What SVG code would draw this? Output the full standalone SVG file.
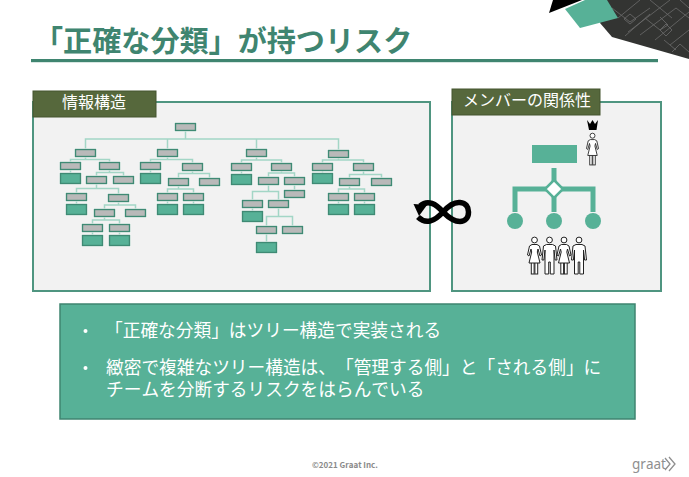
<svg xmlns="http://www.w3.org/2000/svg" width="689" height="477" viewBox="0 0 689 477">
<style>
text{font-family:"Noto Sans CJK JP","Noto Sans",sans-serif;text-spacing-trim:space-all;font-feature-settings:"palt" 0,"kern" 0;font-kerning:none}
.panel{fill:#f2f2f2;stroke:#4f9580;stroke-width:2}
.tab{fill:#56683c;stroke:#44552f;stroke-width:1}
.tabt{fill:#fff;font-size:16px;font-weight:400}
.body{fill:#fff;font-size:17.7px;font-weight:400}
.bus{fill:none;stroke:#a3d6c6;stroke-width:1.5}
.ic{fill:none;stroke:#57b197;stroke-width:5}
.p{fill:#fff;stroke:#222;stroke-width:1}
.tile{fill:none;stroke:#6c6c6c;stroke-width:.8}
</style>
<defs>
<g id="gn"><rect x="-.8" y="-.8" width="22.6" height="9.6" fill="#fff" opacity=".8"/><rect x=".5" y=".5" width="20" height="7" fill="#b9b9b9" stroke="#3f8a74" stroke-width="1.4"/></g>
<g id="tn"><rect x="-.8" y="-.8" width="22.6" height="12.6" fill="#fff" opacity=".8"/><rect x=".5" y=".5" width="20" height="10" fill="#57b197" stroke="#3f8a74" stroke-width="1.4"/></g>
<g id="female"><circle cx="0" cy="0" r="2.9" class="p"/><rect x="-3.2" y="22" width="2.8" height="12" class="p"/><rect x=".4" y="22" width="2.8" height="12" class="p"/><path class="p" d="M-2.5,4.5H2.5L5,6L7,15L5.5,16L3.5,9L2.8,12L5.5,23H-5.5L-2.8,12L-3.5,9L-5.5,16L-7,15L-5,6Z"/></g>
<g id="male"><circle cx="0" cy="0" r="2.9" class="p"/><path class="p" d="M-3,4.5H3L6,6L7.5,20L5.6,20L4.5,10V34H.8V22H-.8V34H-4.5V10L-5.6,20L-7.5,20L-6,6Z"/></g>
</defs>

<g id="decoration">
<polygon points="600,23 612,37 689,59 689,0 607,0" fill="#333432"/>
<g class="tile">
<path d="M618,18L640,0M628,32L670,0M640,35L676,8L689,18M655,40L689,12M612,8L630,22L650,8M645,18L660,30L668,25L660,17M670,45L689,30M650,0L672,18M676,50L664,40M680,0L689,8M630,14L636,19L630,24L624,19ZM666,24L672,30L666,36L660,30ZM625,36L650,14M672,52L680,44L689,52"/>
</g>
<polygon points="549,13 553,0 582,0" fill="#000"/>
<polygon points="565,9 585,0 607,0 618,18 580,28" fill="#57b197"/>
</g>

<g id="title">
<text x="34" y="52" font-size="29.1" font-weight="700" fill="#3f8570">「正確な分類」が持つリスク</text>
<rect x="31" y="59" width="627" height="3.2" fill="#3f8570"/>
</g>

<g id="panel-left"><rect class="panel" x="33" y="102" width="397" height="189"/></g>
<g id="panel-right"><rect class="panel" x="452" y="102" width="209" height="189"/></g>

<g id="connectors">
<path class="bus" d="M185.5,130V139M85.5,149V139H338.5V150M167.5,139V149M256.5,139V149"/>
<path class="bus" d="M85.5,156V159.5M70.5,173V159.5H109.5V162M109.5,169V172.5M96.5,176V172.5H123.5V176M96.5,183V188.5M76.5,204V188.5H118.5V194M118.5,201V205M104.5,209V205H135.5V209M104.5,216V220M92.5,235V220H119.5V235"/>
<path class="bus" d="M167.5,156V159.5M150.5,173V159.5H192.5V163M192.5,170V173.5M178.5,178V173.5H209.5V178M178.5,185V189M167.5,204V189H193.5V204"/>
<path class="bus" d="M256.5,157V160M241.5,174V160H281.5V163M281.5,170V173M268.5,177V173H294.5V190M268.5,184V191.5M252.5,211V191.5H278.5V200M278.5,207V216.5M266.5,242V216.5H292.5V226"/>
<path class="bus" d="M338.5,157V160M322.5,173V160H363.5V163M363.5,171V174.5M349.5,178V174.5H381.5V178M349.5,185V189M338.5,204V189H364.5V204"/>
</g>

<g id="tree-nodes">
<g id="root"><use href="#gn" x="175" y="123"/></g>
<g id="a1"><use href="#gn" x="75" y="149"/></g>
<g id="a2"><use href="#gn" x="60" y="162"/></g>
<g id="a3"><use href="#tn" x="60" y="173"/></g>
<g id="a4"><use href="#gn" x="99" y="162"/></g>
<g id="a5"><use href="#gn" x="86" y="176"/></g>
<g id="a6"><use href="#gn" x="113" y="176"/></g>
<g id="a7"><use href="#gn" x="66" y="193"/></g>
<g id="a8"><use href="#tn" x="66" y="204"/></g>
<g id="a9"><use href="#gn" x="108" y="194"/></g>
<g id="a10"><use href="#gn" x="94" y="209"/></g>
<g id="a11"><use href="#gn" x="125" y="209"/></g>
<g id="a12"><use href="#gn" x="82" y="224"/></g>
<g id="a13"><use href="#tn" x="82" y="235"/></g>
<g id="a14"><use href="#gn" x="109" y="224"/></g>
<g id="a15"><use href="#tn" x="109" y="235"/></g>
<g id="b1"><use href="#gn" x="157" y="149"/></g>
<g id="b2"><use href="#gn" x="140" y="162"/></g>
<g id="b3"><use href="#tn" x="140" y="173"/></g>
<g id="b4"><use href="#gn" x="182" y="163"/></g>
<g id="b5"><use href="#gn" x="168" y="178"/></g>
<g id="b6"><use href="#gn" x="199" y="178"/></g>
<g id="b7"><use href="#gn" x="157" y="193"/></g>
<g id="b8"><use href="#tn" x="157" y="204"/></g>
<g id="b9"><use href="#gn" x="183" y="193"/></g>
<g id="b10"><use href="#tn" x="183" y="204"/></g>
<g id="c1"><use href="#gn" x="246" y="149"/></g>
<g id="c2"><use href="#gn" x="231" y="163"/></g>
<g id="c3"><use href="#tn" x="231" y="174"/></g>
<g id="c4"><use href="#gn" x="271" y="163"/></g>
<g id="c5"><use href="#gn" x="258" y="177"/></g>
<g id="c6"><use href="#gn" x="284" y="177"/></g>
<g id="c7"><use href="#gn" x="284" y="190"/></g>
<g id="c8"><use href="#gn" x="242" y="200"/></g>
<g id="c9"><use href="#tn" x="242" y="211"/></g>
<g id="c10"><use href="#gn" x="268" y="200"/></g>
<g id="c11"><use href="#gn" x="256" y="226"/></g>
<g id="c12"><use href="#tn" x="256" y="242"/></g>
<g id="c13"><use href="#gn" x="282" y="226"/></g>
<g id="d1"><use href="#gn" x="328" y="150"/></g>
<g id="d2"><use href="#gn" x="312" y="163"/></g>
<g id="d3"><use href="#tn" x="312" y="173"/></g>
<g id="d4"><use href="#gn" x="353" y="163"/></g>
<g id="d5"><use href="#gn" x="339" y="178"/></g>
<g id="d6"><use href="#gn" x="371" y="178"/></g>
<g id="d7"><use href="#gn" x="328" y="193"/></g>
<g id="d8"><use href="#tn" x="328" y="204"/></g>
<g id="d9"><use href="#gn" x="354" y="193"/></g>
<g id="d10"><use href="#tn" x="354" y="204"/></g>
</g>

<g id="tab-left"><rect class="tab" x="33" y="91" width="123" height="26"/><text class="tabt" x="62" y="108">情報構造</text></g>
<g id="tab-right"><rect class="tab" x="452" y="89" width="148" height="26"/><text class="tabt" x="463" y="106">メンバーの関係性</text></g>

<g id="org-icon">
<rect x="532" y="145" width="45" height="18" fill="#57b197"/>
<path class="ic" d="M554,168V212M515,212V189H593V212"/>
<polygon points="554,180 563,189 554,198 545,189" fill="#fff" stroke="#57b197" stroke-width="2.5"/>
<circle cx="515" cy="221" r="8" fill="#57b197"/>
<circle cx="554" cy="221" r="8" fill="#57b197"/>
<circle cx="593" cy="221" r="8" fill="#57b197"/>
</g>

<g id="leader">
<path d="M587,120L590,124L592.5,120L595,124L598,120L596.5,130H589Z" fill="#000"/>
<use href="#female" transform="translate(592.5,135.7) scale(.86)"/>
</g>
<g id="members">
<use href="#male" x="579" y="240"/>
<use href="#female" x="564" y="240"/>
<use href="#male" x="549.5" y="240"/>
<use href="#female" x="534.5" y="240"/>
</g>

<g id="infinity">
<path fill="none" stroke="#000" stroke-width="5.5" d="M418,217C426,225 435,221 443,212C450,204 455,202 460,202.5C466,203 468.5,207 468.5,212C468.5,218 465,221.5 460,221.5C455,221.5 450,219 443,212C436,204 428,199 420,206"/>
<polygon points="413.5,204 427,205 419,216" fill="#000"/>
</g>

<g id="summary">
<rect x="60" y="304" width="575" height="115" fill="#57b197" stroke="#3f8570" stroke-width="1.5"/>
<circle cx="85.5" cy="331" r="2" fill="#fff"/>
<circle cx="85.5" cy="368" r="2" fill="#fff"/>
<text class="body" x="105" y="337">「正確な分類」はツリー構造で実装される</text>
<text class="body" x="106" y="374">緻密で複雑なツリー構造は、「管理する側」と「される側」に</text>
<text class="body" x="106" y="396">チームを分断するリスクをはらんでいる</text>
</g>

<g id="footer">
<text x="312" y="467.5" font-size="8" font-weight="700" fill="#8a8a8a">©2021 Graat Inc.</text>
<text x="632" y="469" font-size="13.5" fill="#8f8f8f" style="font-family:'Noto Sans',sans-serif">graat</text>
<path d="M665,458L670,464L665,470M669,457L675,464L669,471" fill="none" stroke="#8f8f8f" stroke-width="1.3"/>
</g>
</svg>
